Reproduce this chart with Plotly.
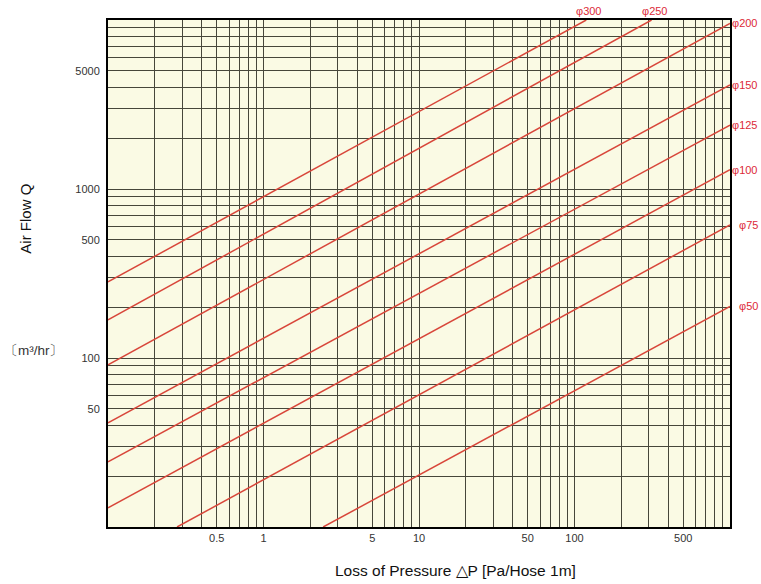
import numpy as np
import plotly.graph_objects as go

# ---- data ----
diameters = ["φ300", "φ250", "φ200", "φ150", "φ125", "φ100", "φ75", "φ50"]
dp_start = [0.1, 0.1, 0.1, 0.1, 0.1, 0.1, 0.278, 2.42]
q_start = [282, 168, 91, 41.4, 24.3, 13.0, 10, 10]
dp_end = [119, 313, 1000, 1000, 1000, 1000, 1000, 1000]
q_end = [10000, 10000, 9560, 4130, 2390, 1300, 613, 202]

x_tick_vals = [0.5, 1, 5, 10, 50, 100, 500]
x_tick_text = ["0.5", "1", "5", "10", "50", "100", "500"]
y_tick_vals = [50, 100, 500, 1000, 5000]
y_tick_text = ["50", "100", "500", "1000", "5000"]

x_grid = [m * 10.0 ** e for e in range(-1, 3) for m in range(1, 10)] + [1000]
y_grid = [m * 10.0 ** e for e in range(1, 4) for m in range(1, 10)] + [10000]

LINE_RED = "#d8463a"
LABEL_RED = "#dc2a38"
GRID = "#46463a"

fig = go.Figure()
for name, x0, y0, x1, y1 in zip(diameters, dp_start, q_start, dp_end, q_end):
    fig.add_trace(go.Scatter(x=[x0, x1], y=[y0, y1], mode="lines", name=name,
                             line=dict(color=LINE_RED, width=1.5),
                             showlegend=False, hoverinfo="skip"))

label_font = dict(size=11, color=LABEL_RED, family="Liberation Sans")
annotations = []
for name, x1, y1 in zip(diameters, dp_end, q_end):
    if y1 >= 10000:
        annotations.append(dict(x=np.log10(x1), y=4, xref="x", yref="y",
                                text=name, showarrow=False, yanchor="bottom",
                                xanchor="center", xshift=3, yshift=1,
                                font=label_font))
    else:
        annotations.append(dict(x=1, y=np.log10(y1), xref="paper", yref="y",
                                text=name, showarrow=False, yanchor="middle",
                                xanchor="right", xshift=30,
                                font=label_font))

annotations.append(dict(x=-0.132, y=0.608, xref="paper", yref="paper",
                        text="Air Flow Q", textangle=-90, showarrow=False,
                        xanchor="center", yanchor="middle",
                        font=dict(size=15, color="#111", family="Liberation Sans")))
annotations.append(dict(x=-0.119, y=0.348, xref="paper", yref="paper",
                        text="〔m³/hr〕", showarrow=False,
                        xanchor="center", yanchor="middle",
                        font=dict(size=13.5, color="#333", family="Liberation Sans")))
annotations.append(dict(x=0.558, y=-0.085, xref="paper", yref="paper",
                        text="Loss of Pressure △P [Pa/Hose 1m]", showarrow=False,
                        xanchor="center", yanchor="middle",
                        font=dict(size=15.5, color="#111", family="Liberation Sans")))

axis_common = dict(
    type="log", showline=True, linecolor="black", linewidth=2, mirror=True,
    ticks="", showgrid=True, gridcolor=GRID, gridwidth=1, zeroline=False,
    tickfont=dict(size=11, color="#333", family="Liberation Sans"),
    tickmode="array",
)

fig.update_xaxes(**axis_common, range=[-1, 3], tickvals=x_tick_vals,
                 ticktext=x_tick_text,
                 minor=dict(tickmode="array", tickvals=x_grid, showgrid=True,
                            gridcolor=GRID, gridwidth=1, ticks=""))
fig.update_yaxes(**axis_common, range=[1, 4], tickvals=y_tick_vals,
                 ticktext=y_tick_text, ticklabelstandoff=4,
                 minor=dict(tickmode="array", tickvals=y_grid, showgrid=True,
                            gridcolor=GRID, gridwidth=1, ticks=""))

fig.update_layout(
    width=761, height=584,
    margin=dict(l=108, r=31, t=20, b=57),
    paper_bgcolor="white", plot_bgcolor="#fafae4",
    annotations=annotations,
)

fig.write_html("out.html",
               config={"displayModeBar": False},
               post_script="document.body.style.margin='0px';"
                           "document.body.style.overflow='hidden';")
